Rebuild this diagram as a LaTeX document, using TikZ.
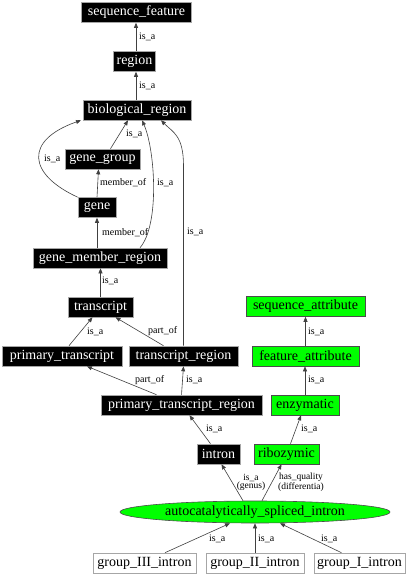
\documentclass[tikz,border=0pt]{standalone}
\usepackage{fontspec}
\setmainfont{Liberation Serif}
\usetikzlibrary{arrows.meta,shapes.geometric}
\begin{document}
\begin{tikzpicture}[x=1pt,y=-1pt,
 base/.style={draw=gray!70, line width=0.6pt, minimum height=20pt, inner xsep=2pt, inner ysep=0pt, font=\fontsize{14}{16}\selectfont},
 blk/.style={base, fill=black, text=white},
 grn/.style={base, fill=green, text=black, draw=gray!60!black},
 wht/.style={base, fill=white, text=black},
 edge/.style={draw=black!75, line width=0.6pt, -{Triangle[length=5pt,width=4pt]}},
 lbl/.style={font=\fontsize{10}{8}\selectfont, inner sep=0pt, anchor=west},
 lbl2/.style={font=\fontsize{9.5}{8}\selectfont, inner sep=0pt, align=center},
]
\useasboundingbox[fill=white] (0,0) rectangle (411,576);

% nodes
\node[blk, minimum width=110pt] (sf) at (136.5,12.5) {sequence\_feature};
\node[blk, minimum width=42pt] (region) at (134.5,61.5) {region};
\node[blk, minimum width=108pt] (br) at (137,110) {biological\_region};
\node[blk, minimum width=75pt] (gg) at (102.5,159) {gene\_group};
\node[blk, minimum width=38pt] (gene) at (97,207.5) {gene};
\node[blk, minimum width=134pt] (gmr) at (100,258) {gene\_member\_region};
\node[blk, minimum width=65pt] (tr) at (100.5,307) {transcript};
\node[blk, minimum width=120pt] (pt) at (62,356) {primary\_transcript};
\node[blk, minimum width=109pt] (trr) at (183.5,356) {transcript\_region};
\node[blk, minimum width=161pt] (ptr) at (181.5,405) {primary\_transcript\_region};
\node[blk, minimum width=43pt] (intron) at (218.5,454) {intron};
\node[grn, minimum width=65pt] (ribo) at (286.5,454) {ribozymic};
\node[grn, minimum width=68pt] (enz) at (305,405) {enzymatic};
\node[grn, minimum width=107pt] (fa) at (305.5,356) {feature\_attribute};
\node[grn, minimum width=119pt] (sa) at (305.5,306.5) {sequence\_attribute};
\node[grn, ellipse, inner sep=0pt, minimum width=270pt, minimum height=22pt] (asi) at (255,512) {autocatalytically\_spliced\_intron};
\node[wht, minimum width=103pt] (g3) at (144.5,563) {group\_III\_intron};
\node[wht, minimum width=98pt] (g2) at (255,563) {group\_II\_intron};
\node[wht, minimum width=91pt] (g1) at (359.5,563) {group\_I\_intron};

% edges
\draw[edge] ([xshift=1.5pt]region.north) -- ([xshift=-0.5pt]sf.south);
\draw[edge] ([xshift=-1pt]br.north) -- ([xshift=1.5pt]region.south);
\draw[edge] ([xshift=8pt]gg.north) -- ([xshift=-9pt]br.south);
\draw[edge] (gene.north west) .. controls +(-50,-23) and +(-57,20) .. ([xshift=-56pt]br.south);
\draw[edge] (gene.north) -- ([xshift=-4pt]gg.south);
\draw[edge] ([xshift=-3pt]gmr.north) -- (gene.south);
\draw[edge] ([xshift=40pt]gmr.north) .. controls +(20,-23) and +(13,29) .. ([xshift=5pt]br.south);
\draw[edge] (tr.north) -- ([xshift=0.5pt]gmr.south);
\draw[edge] ([xshift=7pt]pt.north) -- ([xshift=-8pt]tr.south);
\draw[edge] ([xshift=-20pt]trr.north) -- ([xshift=15pt]tr.south);
\draw[edge] (trr.north) -- ++(0,-180) .. controls +(0,-30) and +(12,12) .. ([xshift=24pt]br.south);
\draw[edge] ([xshift=-25pt]ptr.north) -- ([xshift=25pt]pt.south);
\draw[edge] (ptr.north) -- (trr.south);
\draw[edge] ([xshift=-8pt]intron.north) -- ([xshift=8pt]ptr.south);
\draw[edge] ([xshift=4pt]ribo.north) -- ([xshift=-4pt]enz.south);
\draw[edge] (enz.north) -- ([xshift=-0.5pt]fa.south);
\draw[edge] (fa.north) -- (sa.south);
\draw[edge] ([xshift=-12pt]asi.north) -- ([xshift=3pt]intron.south);
\draw[edge] ([xshift=7pt]asi.north) -- ([xshift=-5pt]ribo.south);
\draw[edge] ([xshift=20.5pt]g3.north) -- ([xshift=-25pt]asi.south);
\draw[edge] (g2.north) -- (asi.south);
\draw[edge] ([xshift=-18pt]g1.north) -- ([xshift=25pt]asi.south);

% labels
\node[lbl] (l1) at (139,36.5) {is\_a};
\node[lbl] (l2) at (139,85.7) {is\_a};
\node[lbl] (l3) at (126,134) {is\_a};
\node[lbl] (l4) at (44,159) {is\_a};
\node[lbl] (l5) at (100,183) {member\_of};
\node[lbl] (l6) at (157,183) {is\_a};
\node[lbl] (l7) at (102,232.5) {member\_of};
\node[lbl] (l8) at (187,232) {is\_a};
\node[lbl] (l9) at (102,281) {is\_a};
\node[lbl] (l10) at (87,332) {is\_a};
\node[lbl] (l11) at (148,331) {part\_of};
\node[lbl] (l12) at (135,380) {part\_of};
\node[lbl] (l13) at (186,380) {is\_a};
\node[lbl] (l14) at (206,429) {is\_a};
\node[lbl] (l15) at (301,429) {is\_a};
\node[lbl] (l16) at (308,380) {is\_a};
\node[lbl] (l17) at (308,331.5) {is\_a};
\node[lbl2] (l18) at (251,482) {is\_a\\(genus)};
\node[lbl2] (l19) at (301,482) {has\_quality\\(differentia)};
\node[lbl] (l20) at (209,539) {is\_a};
\node[lbl] (l21) at (258,539) {is\_a};
\node[lbl] (l22) at (321,539) {is\_a};
\end{tikzpicture}
\end{document}
